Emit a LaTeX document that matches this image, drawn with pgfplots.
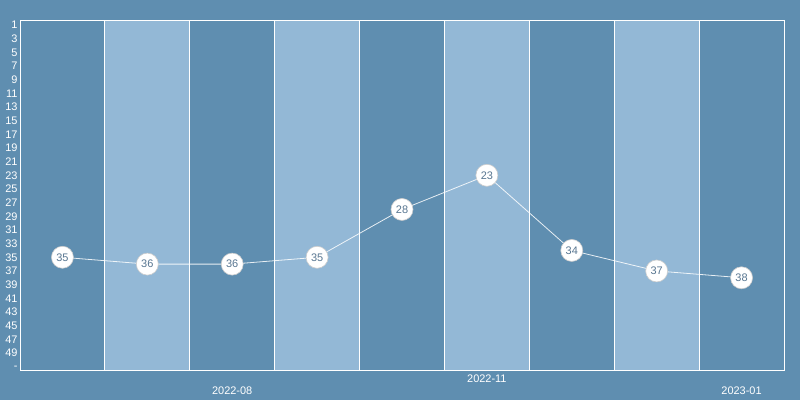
\documentclass[border=0pt]{standalone}
\usepackage{fontspec}
\setmainfont{Liberation Sans}
\usepackage{pgfplots}
\pgfplotsset{compat=1.18}
\definecolor{bg}{RGB}{95,142,176}
\definecolor{band}{RGB}{147,184,214}
\definecolor{lbl}{RGB}{88,118,145}
\begin{document}
\begin{tikzpicture}
\fill[bg] (-20bp,-30bp) rectangle (780bp,370bp);
\begin{axis}[at={(0,0)}, anchor=south west, scale only axis,
  width=764bp, height=350bp,
  xmin=-0.5, xmax=8.5, ymin=0.27, ymax=51.5, y dir=reverse,
  axis line style={white, line width=0.9bp},
  major tick length=0pt,
  /pgf/number format/assume math mode=true,
  tick label style={white, font=\fontsize{11}{12}\selectfont},
  xtick={2,8}, xticklabels={2022-08,2023-01},
  extra x ticks={5}, extra x tick labels={2022-11},
  extra x tick style={xticklabel style={yshift=12bp}},
  xticklabel style={yshift=-13bp},
  ytick={1,3,...,49},
  extra y ticks={51.2}, extra y tick labels={-},
  yticklabel style={xshift=1bp},
  clip=false,
]
\pgfplotsinvokeforeach{0.5,2.5,4.5,6.5}{
  \fill[band, draw=white, line width=0.8bp] (axis cs:#1,0.27) rectangle (axis cs:#1+1,51.5);
}
\addplot[white, opacity=0.85, line width=0.8bp, forget plot] coordinates {
 (0,35) (1,36) (2,36) (3,35) (4,28) (5,23) (6,34) (7,37) (8,38)};
\addplot[draw=none, mark=*, mark size=11bp,
  mark options={fill=white, draw=gray!40, line width=0.6bp},
  nodes near coords, point meta=explicit symbolic,
  every node near coord/.append style={anchor=center, text=lbl, font=\fontsize{11}{12}\selectfont}]
 coordinates {
 (0,35) [35] (1,36) [36] (2,36) [36] (3,35) [35] (4,28) [28] (5,23) [23] (6,34) [34] (7,37) [37] (8,38) [38]};
\end{axis}
\end{tikzpicture}
\end{document}
